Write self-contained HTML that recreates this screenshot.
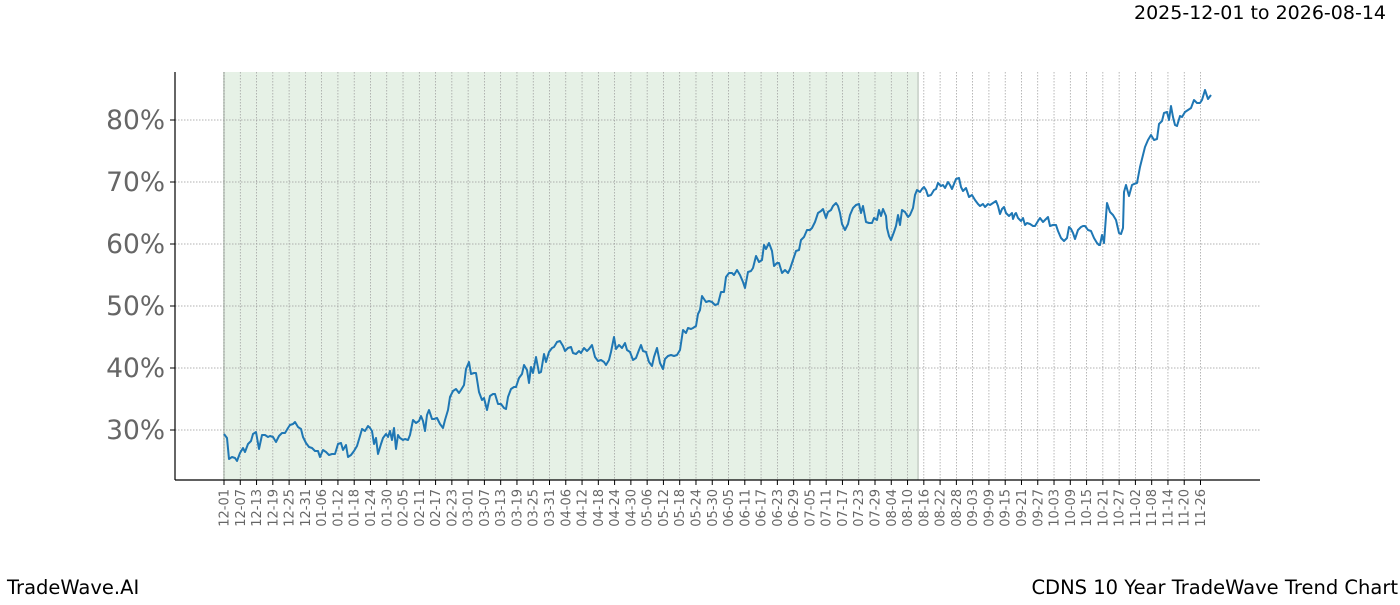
<!DOCTYPE html>
<html><head><meta charset="utf-8"><style>
body{margin:0;background:#fff;width:1400px;height:600px;overflow:hidden;font-family:"Liberation Sans","DejaVu Sans",sans-serif}
</style></head><body>
<svg width="1400" height="600" xmlns="http://www.w3.org/2000/svg" font-family="DejaVu Sans, Liberation Sans, sans-serif">
<rect x="224" y="72" width="695" height="408" fill="#e6f1e6"/>
<line x1="224" y1="72" x2="224" y2="480" stroke="#c8d2c8" stroke-width="2"/>
<line x1="918" y1="72" x2="918" y2="480" stroke="#d0d8d0" stroke-width="2"/>
<g id="vg" stroke="#999" stroke-width="0.7" stroke-dasharray="1.5,1.5"></g>
<g stroke="#999" stroke-width="0.7" stroke-dasharray="1.5,1.5">
<line x1="175" x2="1260" y1="120" y2="120"/><line x1="175" x2="1260" y1="182" y2="182"/><line x1="175" x2="1260" y1="244" y2="244"/><line x1="175" x2="1260" y1="306" y2="306"/><line x1="175" x2="1260" y1="368" y2="368"/><line x1="175" x2="1260" y1="430" y2="430"/>
</g>
<g font-size="26.5" fill="#666" text-anchor="end">
<text x="165" y="129">80%</text><text x="165" y="191">70%</text><text x="165" y="253">60%</text><text x="165" y="315">50%</text><text x="165" y="377">40%</text><text x="165" y="439">30%</text>
</g>
<g stroke="#000" stroke-width="1"><line x1="175" y1="120" x2="170" y2="120"/><line x1="175" y1="182" x2="170" y2="182"/><line x1="175" y1="244" x2="170" y2="244"/><line x1="175" y1="306" x2="170" y2="306"/><line x1="175" y1="368" x2="170" y2="368"/><line x1="175" y1="430" x2="170" y2="430"/></g>
<g id="xt"></g>
<polyline fill="none" stroke="#1f77b4" stroke-width="2" stroke-linejoin="round" points="224,434 227,438 229,459 232,457 235,458 237,461 240,453 243,448 245,452 248,444 251,441 253,434 256,432 259,449 262,435 265,435 268,437 270,436 273,437 276,442 279,436 282,433 285,433 288,428 290,425 293,424 295,422 298,427 301,429 303,437 306,443 309,447 312,448 315,451 318,451 320,457 323,450 326,452 329,455 332,454 335,454 338,444 341,443 343,450 346,445 348,457 351,455 354,451 357,446 360,436 362,429 365,431 368,426 370,428 372,431 374,444 376,438 378,454 381,444 383,438 386,434 388,437 390,431 392,440 394,428 396,449 398,435 400,438 403,440 405,439 408,440 410,435 413,420 416,423 419,421 421,416 423,421 425,431 427,415 429,410 432,419 434,419 437,418 440,424 443,428 445,420 448,410 450,397 453,391 456,389 459,393 461,390 464,385 466,369 469,362 471,374 474,373 476,373 479,392 482,400 484,398 487,410 490,396 493,394 495,394 498,404 501,404 504,408 506,409 508,397 511,389 514,387 516,387 519,378 522,374 524,365 527,370 529,383 531,367 533,373 536,357 539,373 541,372 544,354 546,362 549,352 552,348 554,347 557,342 560,341 563,346 565,351 568,348 571,347 573,353 576,354 579,351 581,353 584,348 587,351 589,349 592,345 595,357 598,361 601,360 604,362 606,365 609,360 611,352 614,337 616,349 619,345 622,348 625,343 627,350 630,352 633,360 636,358 639,350 641,345 643,351 646,352 649,362 652,366 654,357 657,348 660,363 663,369 665,359 668,356 671,355 674,356 677,355 680,350 683,330 686,333 688,328 691,329 693,328 696,326 698,314 700,310 702,296 706,302 709,301 712,302 715,305 718,304 721,292 724,292 726,277 729,273 732,273 734,275 737,270 740,275 743,282 745,288 748,272 751,271 753,268 756,256 759,262 762,260 764,245 766,249 769,243 772,251 774,266 777,263 779,263 782,273 785,270 788,273 790,269 793,260 796,251 799,250 801,240 804,237 807,230 810,230 812,228 815,222 818,213 821,211 823,209 826,218 828,212 831,210 833,206 836,203 838,206 840,213 842,224 845,230 848,224 850,215 853,208 856,205 859,204 861,213 863,206 866,222 869,223 872,223 874,218 877,220 879,210 881,216 883,209 886,216 887,228 889,236 891,240 894,232 896,226 898,215 900,225 902,210 905,212 908,217 910,215 913,208 915,195 917,190 920,192 922,189 924,187 926,190 928,196 931,195 934,190 936,189 938,183 941,186 943,185 945,188 948,182 950,185 952,189 956,179 959,178 961,187 963,191 966,188 969,197 972,195 975,200 978,204 980,206 983,204 985,207 988,204 990,205 993,203 996,201 998,206 1000,214 1002,209 1004,207 1006,213 1009,216 1012,213 1013,219 1015,214 1016,213 1018,218 1021,221 1023,218 1025,225 1027,223 1030,224 1033,226 1035,226 1038,221 1040,218 1043,222 1046,219 1048,217 1050,226 1053,225 1056,225 1058,231 1061,238 1064,241 1067,238 1069,227 1071,229 1073,233 1075,239 1078,230 1081,227 1083,226 1085,226 1088,230 1091,231 1094,238 1097,243 1099,245 1100,245 1102,235 1104,243 1107,203 1110,212 1113,215 1116,220 1119,233 1121,234 1123,228 1124,192 1126,185 1129,196 1132,185 1134,184 1137,183 1140,167 1143,155 1145,147 1148,140 1151,135 1154,140 1157,139 1159,124 1162,121 1164,113 1167,112 1169,120 1171,106 1173,117 1175,125 1177,126 1180,116 1182,117 1185,112 1188,110 1191,108 1194,100 1197,103 1200,103 1202,100 1205,90 1208,99 1211,95"/>
<line x1="175" y1="72" x2="175" y2="480" stroke="#000" stroke-width="1.2"/>
<line x1="175" y1="480" x2="1260" y2="480" stroke="#000" stroke-width="1.2"/>
<text x="1386" y="19" font-size="19" text-anchor="end" fill="#000">2025-12-01 to 2026-08-14</text>
<text x="7" y="594" font-size="19.5" fill="#000">TradeWave.AI</text>
<text x="1398" y="594" font-size="19.5" text-anchor="end" fill="#000">CDNS 10 Year TradeWave Trend Chart</text>
</svg>
<script>
var labels="12-01 12-07 12-13 12-19 12-25 12-31 01-06 01-12 01-18 01-24 01-30 02-05 02-11 02-17 02-23 03-01 03-07 03-13 03-19 03-25 03-31 04-06 04-12 04-18 04-24 04-30 05-06 05-12 05-18 05-24 05-30 06-05 06-11 06-17 06-23 06-29 07-05 07-11 07-17 07-23 07-29 08-04 08-10 08-16 08-22 08-28 09-03 09-09 09-15 09-21 09-27 10-03 10-09 10-15 10-21 10-27 11-02 11-08 11-14 11-20 11-26".split(" ");
var ns="http://www.w3.org/2000/svg",vg=document.getElementById("vg"),xt=document.getElementById("xt");
for(var i=0;i<labels.length;i++){var x=224+i*(976.5/60);
var l=document.createElementNS(ns,"line");l.setAttribute("x1",x);l.setAttribute("x2",x);l.setAttribute("y1",72);l.setAttribute("y2",480);vg.appendChild(l);
var t=document.createElementNS(ns,"line");t.setAttribute("x1",x);t.setAttribute("x2",x);t.setAttribute("y1",480);t.setAttribute("y2",485);t.setAttribute("stroke","#000");xt.appendChild(t);
var tx=document.createElementNS(ns,"text");tx.setAttribute("transform","translate("+(x+4.5)+",489) rotate(-90)");tx.setAttribute("text-anchor","end");tx.setAttribute("font-size","13");tx.setAttribute("fill","#666");tx.textContent=labels[i];xt.appendChild(tx);}
</script>
</body></html>
